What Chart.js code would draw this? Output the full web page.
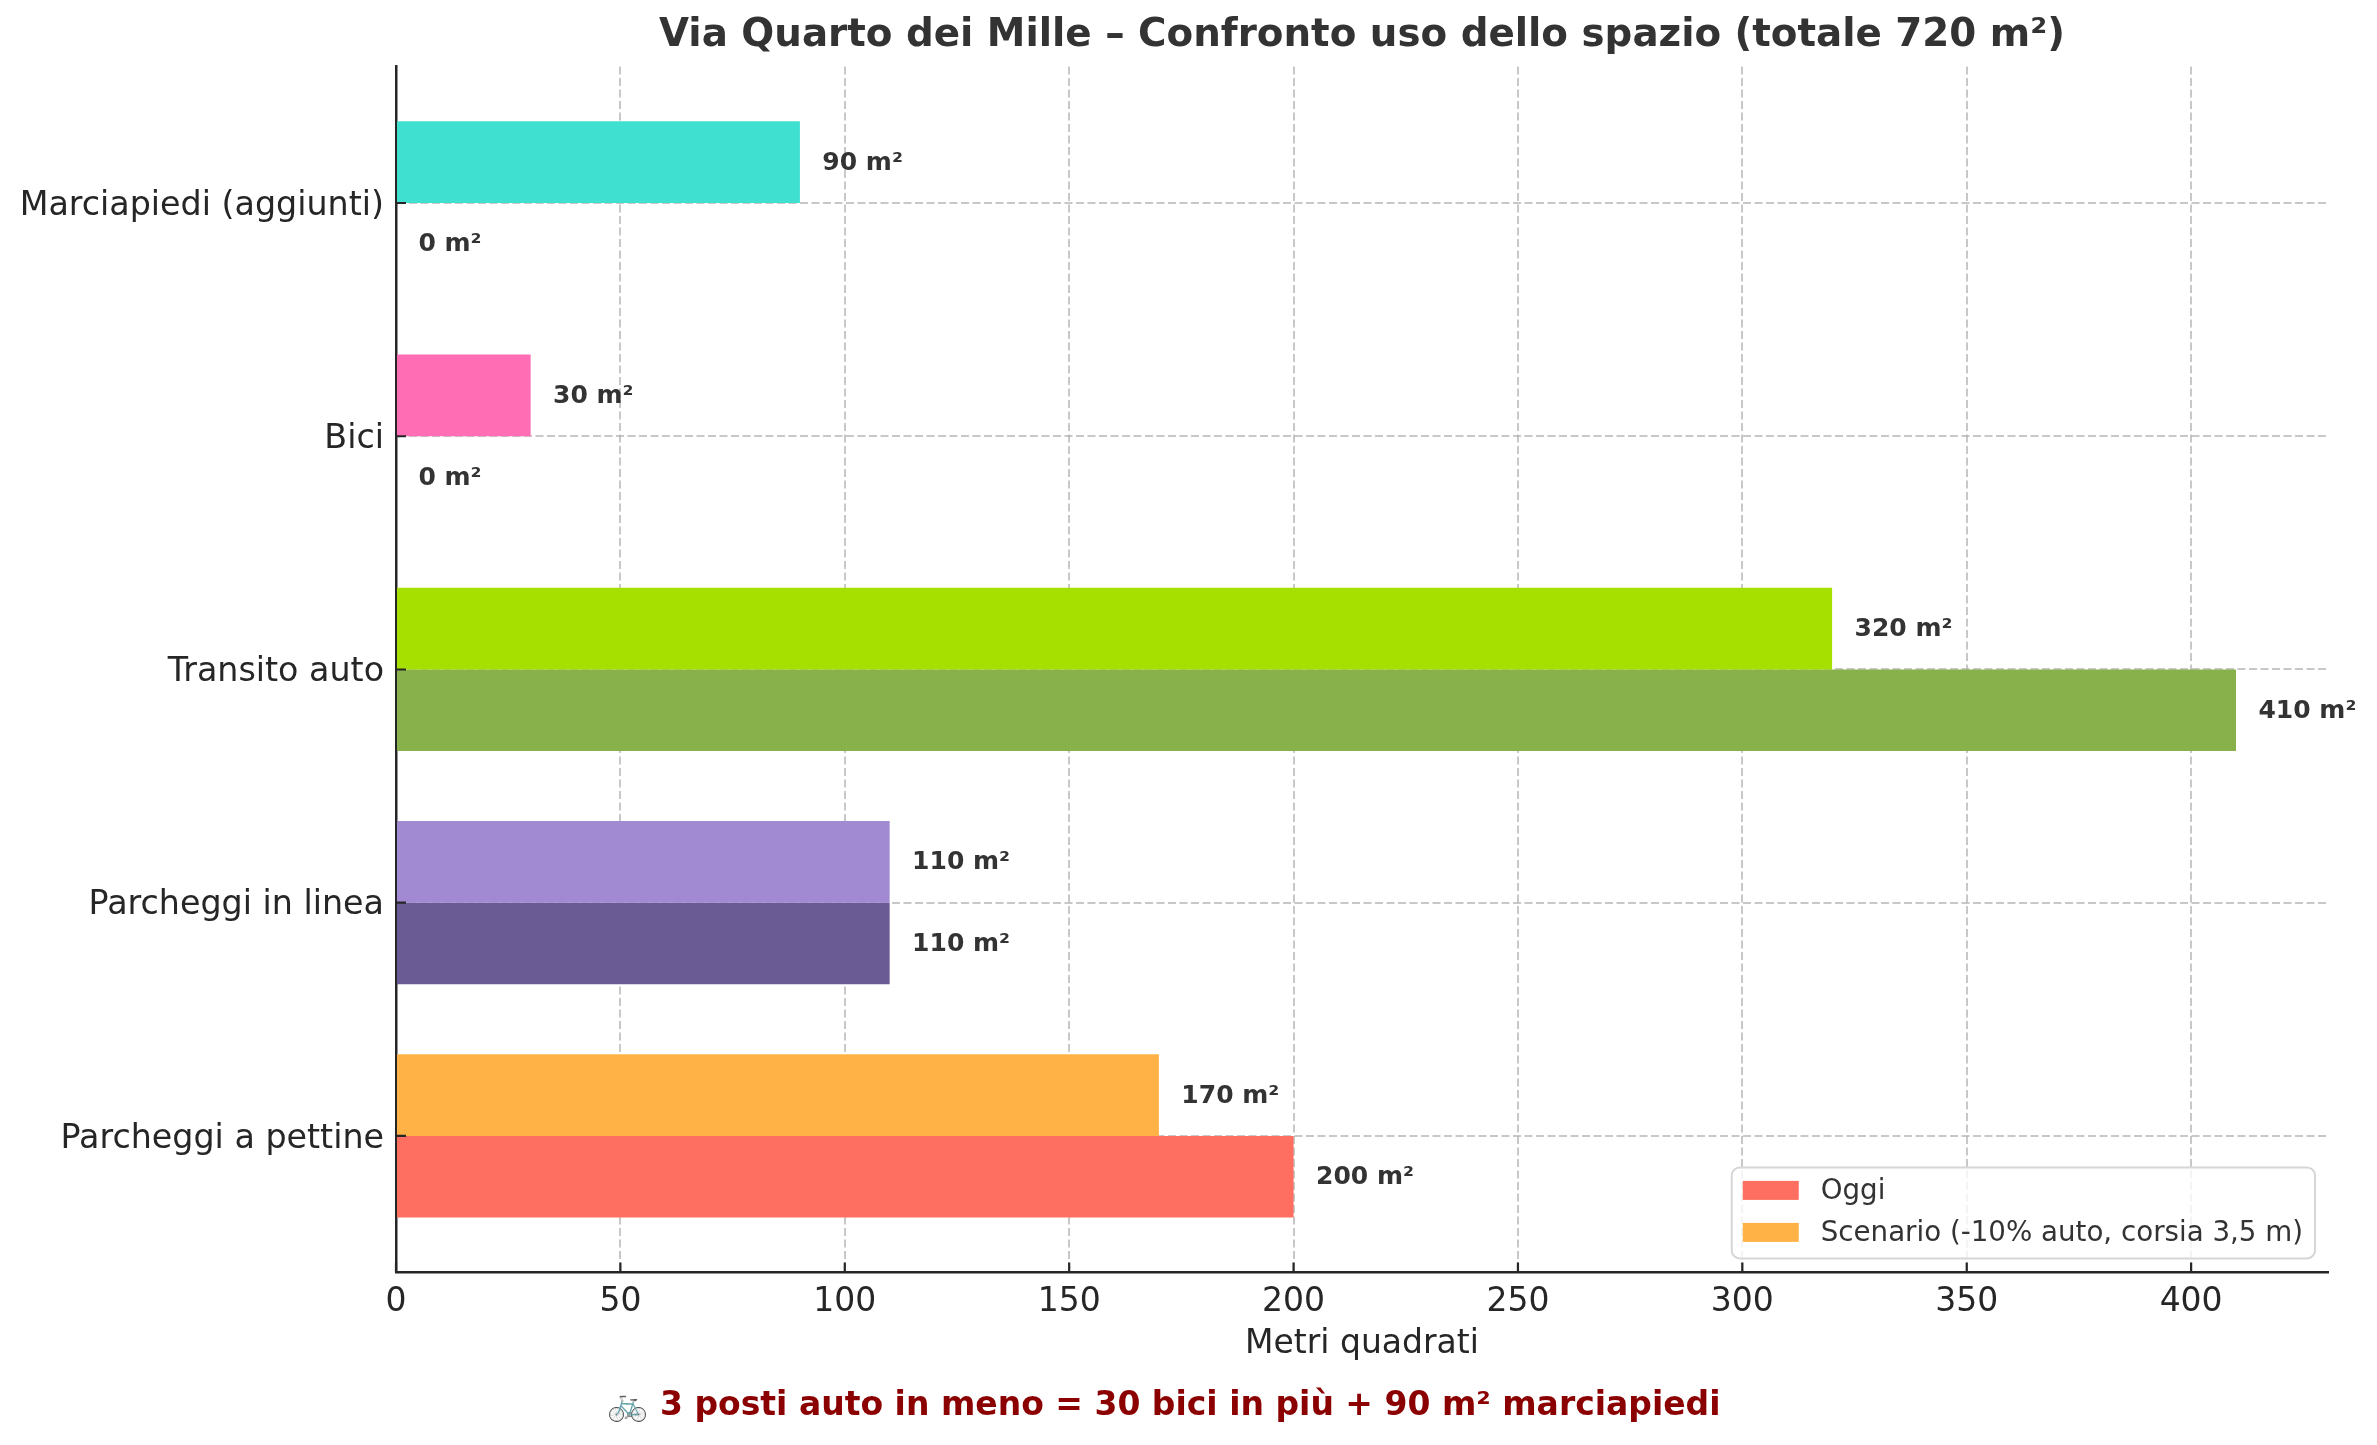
<!DOCTYPE html>
<html>
<head>
<meta charset="utf-8">
<title>Via Quarto dei Mille</title>
<script src="https://cdn.jsdelivr.net/npm/chart.js@4.4.1/dist/chart.umd.min.js"></script>
<style>
    html, body { margin: 0; padding: 0; background: #ffffff; }
    #wrap { width: 2377px; height: 1445px; position: relative; }
</style>
</head>
<body>
<div id="wrap"><canvas id="chart"></canvas></div>
<script>
// Data (bottom to top, as in the original)
const categories = ['Parcheggi a pettine', 'Parcheggi in linea', 'Transito auto', 'Bici', 'Marciapiedi (aggiunti)'];
const oggiValues = [200, 110, 410, 0, 0];
const scenarioValues = [170, 110, 320, 30, 90];
const oggiColors = ['#FF6F61', '#6B5B95', '#88B04B', '#FF6EB4', '#40E0D0'];
const scenarioColors = ['#FFB347', '#A28AD2', '#A6E000', '#FF6EB4', '#40E0D0'];
const xTicks = [0, 50, 100, 150, 200, 250, 300, 350, 400];
const seriesNames = ['Oggi', 'Scenario (-10% auto, corsia 3,5 m)'];

const FONT = '"DejaVu Sans", "Noto Sans", sans-serif';
const GRID = 'rgba(176, 176, 176, 0.7)';
const SPINE = '#262626';

const toPoints = (values) => values.map((v, i) => ({ x: v, y: i }));

/**
 * Value labels next to each bar, inward tick marks and the legend box
 */
const extras = {
    id: 'extras',
    afterDraw(chart) {
        const ctx = chart.ctx;
        const xs = chart.scales.x;
        const ys = chart.scales.y;
        const area = chart.chartArea;
        ctx.save();

        // value labels
        ctx.font = 'bold 25px ' + FONT;
        ctx.fillStyle = '#333333';
        ctx.textAlign = 'left';
        ctx.textBaseline = 'middle';
        chart.data.datasets.forEach((ds, i) => {
            chart.getDatasetMeta(i).data.forEach((bar, j) => {
                const v = ds.data[j].x;
                ctx.fillText(v + ' m²', xs.getPixelForValue(v + 5), bar.y + 1);
            });
        });

        // ticks pointing into the axes
        ctx.strokeStyle = SPINE;
        ctx.lineWidth = 2.2;
        ctx.beginPath();
        xs.ticks.forEach((t, i) => {
            const px = xs.getPixelForTick(i);
            ctx.moveTo(px, area.bottom);
            ctx.lineTo(px, area.bottom - 10);
        });
        ys.ticks.forEach((t, i) => {
            const py = ys.getPixelForTick(i);
            ctx.moveTo(area.left, py);
            ctx.lineTo(area.left + 10, py);
        });
        ctx.stroke();

        // legend, lower right
        ctx.font = '27.7px ' + FONT;
        const textW = Math.max(...seriesNames.map(n => ctx.measureText(n).width));
        const boxW = 11 + 56 + 22 + textW + 12;
        const boxH = 91;
        const bx = area.right - 13 - boxW;
        const by = area.bottom - 14 - boxH;
        ctx.beginPath();
        ctx.roundRect(bx, by, boxW, boxH, 8);
        ctx.fillStyle = 'rgba(255, 255, 255, 0.8)';
        ctx.fill();
        ctx.strokeStyle = '#d6d6d6';
        ctx.lineWidth = 2;
        ctx.stroke();
        const swatches = [oggiColors[0], scenarioColors[0]];
        seriesNames.forEach((name, i) => {
            const cy = by + 23 + i * 42;
            ctx.fillStyle = swatches[i];
            ctx.fillRect(bx + 11, cy - 9.5, 56, 19);
            ctx.fillStyle = '#333333';
            ctx.textAlign = 'left';
            ctx.textBaseline = 'middle';
            ctx.fillText(name, bx + 11 + 56 + 22, cy + 1);
        });
        ctx.restore();
    }
};

const canvas = document.getElementById('chart');

new Chart(canvas, {
    type: 'bar',
    data: {
        datasets: [
            {
                label: seriesNames[1],
                data: toPoints(scenarioValues),
                backgroundColor: scenarioColors,
                borderWidth: 0
            },
            {
                label: seriesNames[0],
                data: toPoints(oggiValues),
                backgroundColor: oggiColors,
                borderWidth: 0
            }
        ]
    },
    options: {
        indexAxis: 'y',
        responsive: true,
        maintainAspectRatio: false,
        animation: false,
        devicePixelRatio: 1,
        layout: { padding: { left: 0, right: 49, top: 0, bottom: 0 } },
        datasets: { bar: { categoryPercentage: 0.7, barPercentage: 1.0 } },
        plugins: {
            legend: { display: false },
            tooltip: { enabled: false },
            title: {
                display: true,
                text: 'Via Quarto dei Mille – Confronto uso dello spazio (totale 720 m²)',
                fullSize: false,
                color: '#333333',
                font: { family: FONT, size: 38.8, weight: 'bold', lineHeight: 1.2 },
                padding: { top: 13, bottom: 7 }
            },
            subtitle: {
                display: true,
                position: 'bottom',
                text: '🚲 3 posti auto in meno = 30 bici in più + 90 m² marciapiedi',
                color: '#8B0000',
                font: { family: FONT, size: 33, weight: 'bold', lineHeight: 1.2 },
                padding: { top: 10, bottom: 19 }
            }
        },
        scales: {
            x: {
                type: 'linear',
                min: 0,
                max: 430.5,
                z: 1,
                afterBuildTicks: (axis) => { axis.ticks = xTicks.map(v => ({ value: v })); },
                afterFit: (axis) => { axis.height = 104; },
                grid: { color: GRID, lineWidth: 2, drawTicks: false },
                border: { color: SPINE, width: 2.5, dash: [8, 3.5] },
                ticks: { color: SPINE, font: { family: FONT, size: 33 }, padding: 10 },
                title: {
                    display: true,
                    text: 'Metri quadrati',
                    color: SPINE,
                    font: { family: FONT, size: 33, lineHeight: 1.2 },
                    padding: { top: 20, bottom: 12 }
                }
            },
            y: {
                type: 'linear',
                min: -0.585,
                max: 4.585,
                offset: false,
                z: 1,
                afterBuildTicks: (axis) => { axis.ticks = categories.map((c, i) => ({ value: i })); },
                afterFit: (axis) => { axis.width = 396; },
                grid: { color: GRID, lineWidth: 2, drawTicks: false, offset: false },
                border: { color: SPINE, width: 2.5, dash: [8, 3.5] },
                ticks: {
                    color: SPINE,
                    font: { family: FONT, size: 33.3 },
                    padding: 12,
                    labelOffset: 3,
                    callback: (value) => categories[value]
                }
            }
        }
    },
    plugins: [extras]
});
</script>
</body>
</html>
